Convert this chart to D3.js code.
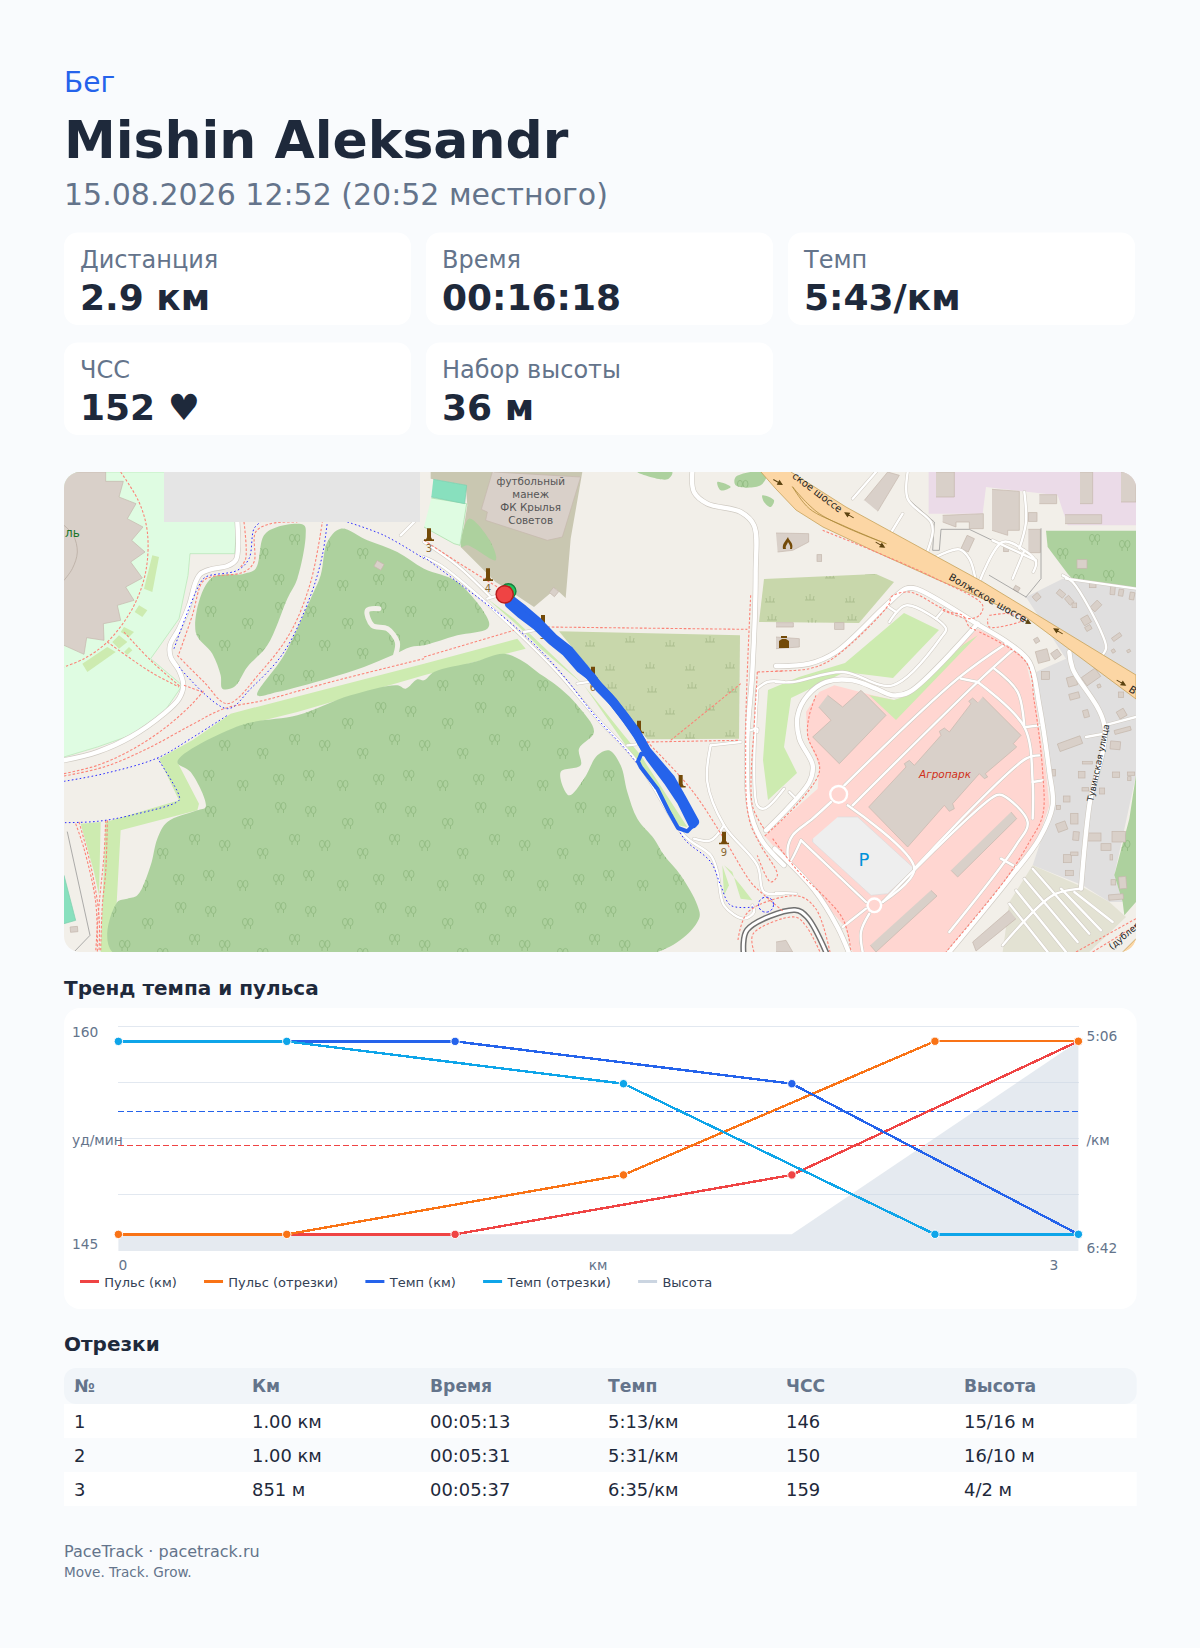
<!DOCTYPE html>
<html lang="ru">
<head>
<meta charset="utf-8">
<title>PaceTrack</title>
<script src="https://cdn.jsdelivr.net/npm/d3@7"></script>
<style>
  html, body { margin: 0; background: #f9fbfd; }
  svg { display: block; font-family: "DejaVu Sans", sans-serif; }
</style>
</head>
<body>
<svg id="root" width="1200" height="1648"></svg>
<script>
// ---- summary ----
const stats = [
  ["Дистанция", "2.9 км"], ["Время", "00:16:18"], ["Темп", "5:43/км"],
  ["ЧСС", "152 ♥"], ["Набор высоты", "36 м"],
];

// ---- chart data (x in km, pulse in bpm, pace in sec/km) ----
const kmX = [0, 1, 2, 2.851];
const segX = [0, 0.5, 1.5, 2.425, 2.851];
const pulseKm = [146, 146, 150, 159];
const pulseSeg = [146, 146, 150, 159, 159];
const paceKm = [313, 313, 331, 395];
const paceSeg = [313, 313, 331, 395, 395];
const elevation = [1, 1, 1, 14];
const avgPulse = 152;
const avgPace = 343;
const legendNames = ["Пульс (км)", "Пульс (отрезки)", "Темп (км)", "Темп (отрезки)", "Высота"];
const legendColors = ["#ef4444", "#f97316", "#2563eb", "#0ea5e9", "#cbd5e1"];

// ---- table ----
const tableHead = ["№", "Км", "Время", "Темп", "ЧСС", "Высота"];
const tableRows = [
  ["1", "1.00 км", "00:05:13", "5:13/км", "146", "15/16 м"],
  ["2", "1.00 км", "00:05:31", "5:31/км", "150", "16/10 м"],
  ["3", "851 м", "00:05:37", "6:35/км", "159", "4/2 м"],
];

// ---- map features. a/b/c are three overlapping strips of the map, coords are at 3x ----
const a = pts => pts.map(([x, y]) => [x / 3, y / 3]);
const b = pts => pts.map(([x, y]) => [360 + x / 3, y / 3]);
const c = pts => pts.map(([x, y]) => [712 + x / 3, y / 3]);

const parkPoly = a([[0,0],[300,0],[520,150],[512,245],[378,245],[372,310],[345,440],[260,560],[355,640],[300,720],[200,790],[100,825],[0,855]]);
const stadium = a([[0,0],[125,0],[125,28],[178,28],[165,75],[216,95],[190,140],[237,165],[203,205],[243,240],[200,270],[235,318],[185,345],[210,385],[160,400],[170,445],[118,455],[120,505],[68,497],[60,547],[0,520]]);
const stadiumArc = a([[0,160],[28,190],[40,240],[25,290],[0,325]]);
const forestMain = [...a([[1080,625],[1060,622],[1025,650],[1000,640],[860,670],[700,730],[530,760],[340,870],[380,900],[425,1005],[400,1015],[310,1050],[280,1100],[260,1180],[220,1270],[190,1280],[160,1290],[145,1440]]),
  ...b([[700,1440],[825,1340],[820,1300],[770,1210],[720,1150],[690,1100],[640,1040],[610,960],[590,880],[555,835],[520,850],[480,920],[435,970],[410,900],[470,880],[465,830],[510,780],[460,700],[410,650],[340,600],[300,570],[240,545],[150,570],[30,600]])];
const forestA = a([[720,160],[640,165],[600,190],[575,290],[540,305],[440,320],[395,480],[445,545],[470,610],[475,650],[510,645],[550,585],[610,520],[670,380],[700,320],[725,190]]);
const forestB = [...a([[790,210],[830,170],[910,205],[1000,240],[1080,290]]), ...b([[100,330],[195,450],[190,470],[100,490],[0,520]]),
  ...a([[1040,525],[985,550],[900,585],[790,620],[640,660],[580,670],[660,550],[740,380],[770,310]])];
const forestPatches = [
  b([[135,140],[200,210],[215,265],[130,220],[112,225]]),
  b([[880,30],[920,45],[890,55]]),
  b([[935,15],[1030,0],[1010,40],[935,40]]),
  b([[1015,70],[1050,85],[1040,105],[1020,90]]),
  b([[640,0],[745,0],[730,22]]),
];
const forestFlat = [
  c([[810,176],[1080,176],[1080,350],[890,322],[875,305],[815,225]]),
  c([[1080,910],[1060,1040],[1015,1210],[1040,1290],[1045,1330],[1080,1290]]),
];
const grassPolys = [
  [...a([[500,725],[1080,575]]), ...b([[280,500],[305,530],[0,610]]), ...a([[700,720],[520,765],[400,830],[340,870],[405,995],[400,1015],[170,1075],[150,1440],[110,1440],[125,1050],[345,985],[285,860],[385,805]])],
  a([[265,250],[285,255],[265,360],[240,350]]),
  a([[225,400],[250,415],[235,435],[212,420]]),
  a([[180,465],[210,480],[195,495],[170,480]]),
  a([[165,490],[190,510],[165,530],[145,510]]),
  a([[130,525],[155,540],[70,600],[55,575]]),
  a([[195,525],[205,535],[190,548],[180,540]]),
  a([[50,1055],[110,1050],[105,1270],[90,1200]]),
  [[840,141],[875,158],[829,206],[781,200],[727,226],[720,275],[733,301],[704,328],[699,288],[704,218],[735,205],[781,191]],
  [[914,163],[832,248],[805,223],[830,228],[845,223],[899,173]],
  b([[190,380],[280,460],[350,530],[480,640],[600,790],[650,850],[790,1065],[760,1060],[640,870],[480,640],[270,440]]),
  b([[900,1180],[950,1240],[985,1285],[950,1280],[925,1200]]),
  b([[895,1180],[915,1240],[900,1270]]),
];
const olivePoly = b([[20,0],[475,0],[440,200],[425,378],[395,350],[330,405],[270,365],[215,330],[110,225],[130,100],[125,40],[20,20]]);
const meadows = [
  b([[405,478],[948,490],[945,800],[670,802]]),
  [[695,150],[700,107],[812,102],[830,110],[795,151]],
];
const retailPoly = c([[605,470],[700,515],[730,545],[750,570],[780,700],[810,900],[820,1000],[790,1090],[700,1220],[530,1440],[230,1440],[207,1364],[46,1184],[-34,1092],[125,950],[130,880],[95,800],[90,720],[130,660],[175,640],[290,670],[355,685],[400,670]]);
const industrialPoly = c([[458,0],[1080,0],[1080,160],[875,160],[845,70],[630,45],[620,125],[458,125]]);
const residentialPoly = c([[750,375],[860,320],[1080,350],[1080,910],[1015,1210],[1040,1290],[1000,1290],[920,1240],[770,1180],[830,1000],[780,600],[870,560]]);
const garagePoly = c([[770,1180],[920,1245],[1000,1290],[1050,1335],[940,1440],[680,1440],[700,1290]]);
const parkingPoly = c([[185,1035],[245,1035],[415,1190],[335,1265],[285,1270],[110,1110],[110,1100]]);
const trunkPoly = [[727,0],[782,35],[919,110],[1072,203],[1072,227],[962,145],[872,107],[812,80],[759,55],[732,38],[712,17],[697,0]];
const trunkCorner = c([[1040,1440],[1080,1400],[1080,1440]]);
const greyRect = [[100,0],[356,0],[356,50],[100,50]];
const pitches = [b([[28,22],[128,40],[122,95],[22,75]]), a([[0,1210],[35,1345],[0,1355]])];
const pitchGreen = b([[22,78],[128,95],[108,220],[90,215],[0,165]]);

const buildings = [
  b([[210,0],[470,15],[415,195],[370,205],[185,145],[190,120],[172,112],[205,0]]),
  c([[620,675],[735,790],[712,815],[722,825],[628,905],[635,915],[625,920],[610,905],[530,995],[535,1010],[520,1018],[505,1000],[395,1125],[278,1005],[390,885],[385,875],[400,865],[415,880],[495,790],[490,778],[505,768],[520,780],[585,695],[578,688],[590,678],[605,692]]),
  c([[155,670],[200,705],[255,655],[330,730],[190,875],[110,795],[165,745],[128,705]]),
  c([[705,1020],[722,1040],[545,1215],[525,1195]]),
  c([[465,1255],[483,1272],[300,1440],[283,1420]]),
  c([[720,1340],[600,1437],[590,1410],[700,1315]]),
  c([[480,0],[535,0],[535,75],[480,75]]),
  c([[912,0],[950,0],[950,95],[912,95]]),
  c([[1035,0],[1080,0],[1080,90],[1035,90]]),
  c([[790,68],[842,68],[842,95],[790,95]]),
  c([[867,128],[977,128],[977,155],[867,155]]),
  c([[648,52],[730,58],[730,175],[695,175],[695,190],[648,175]]),
  c([[500,130],[622,125],[622,170],[580,170],[580,150],[540,150],[540,165],[500,150]]),
  c([[757,172],[793,172],[793,242],[757,242]]),
  c([[265,85],[335,0],[370,10],[305,118]]),
  c([[0,183],[98,185],[98,210],[50,235],[5,240]]),
  c([[0,495],[70,500],[70,525],[0,530]]),
  c([[0,452],[52,452],[52,465],[0,465]]),
  c([[0,1410],[30,1405],[50,1440],[0,1440]]),
];
// cx, cy, w, h, angle at 3x on strip c
const smallBuildings = [
  [782,375,20,18,-40],[855,365,24,16,40],[880,385,16,26,-40],[895,400,14,14,0],[960,402,30,20,-45],[950,340,20,14,0],
  [930,445,24,24,-30],[937,468,18,14,-30],[1010,355,14,26,5],[1035,362,14,20,10],[1068,372,14,22,10],[1022,495,30,12,-35],
  [1012,537,10,10,-30],[1058,537,10,8,-30],[800,552,36,36,-15],[840,547,24,22,-35],[808,610,24,24,0],[888,628,28,28,-15],
  [895,672,30,18,-15],[945,615,50,30,-35],[969,642,10,10,-20],[1035,668,16,16,0],[1037,725,24,24,-30],[930,725,16,22,-15],
  [882,815,72,24,-20],[1040,775,50,12,-15],[1018,820,30,24,5],[934,872,30,8,0],[917,908,20,20,0],[1020,908,22,16,0],
  [833,902,10,20,0],[928,952,20,10,0],[978,957,16,18,0],[872,981,20,18,0],[847,1006,12,12,0],[895,1040,22,32,0],
  [857,1064,30,26,-20],[900,1092,18,26,5],[955,1095,40,24,0],[1028,1094,40,32,0],[990,1125,30,20,0],[1006,1156,8,16,0],
  [874,1160,24,24,0],[880,1203,24,16,0],[1040,1232,22,36,-5],[1012,1231,14,16,0],[1020,1275,44,16,-5],[895,1145,22,10,0],
  [1065,905,22,10,0],[1060,920,10,12,0],[722,350,16,14,30],[575,215,24,44,25],[782,505,14,14,-30],[918,276,30,26,0],
  [690,232,14,14,0],[130,258,14,20,0],[190,462,28,20,0],[-1191,280,24,20,30],[-666,360,20,20,40],[770,135,26,26,0],
  [-2106,1372,22,16,-5],
];

const roadsMajor = [
  a([[0,865],[100,840],[200,795],[300,725],[345,680],[358,640],[345,595],[320,555],[318,520],[345,470],[375,400],[395,330],[410,305],[440,292],[490,282],[515,265],[522,230],[520,150]]),
  b([[805,0],[810,60],[850,95],[950,120],[990,160],[995,300],[985,600],[970,800],[975,1000],[1010,1100],[1080,1180]]),
  c([[0,582],[100,575],[180,540],[330,400],[390,350],[420,350],[610,460],[700,515],[760,570],[790,700],[820,900],[830,1000],[790,1100],[700,1220],[520,1440]]),
  c([[-30,1075],[100,930],[110,880],[70,800],[65,730],[95,670],[150,630],[230,625],[300,650],[350,670],[400,660],[605,455]]),
  c([[-4,1130],[115,1254],[184,1364],[218,1440]]),
  c([[880,540],[890,590],[985,760],[940,1000],[915,1250]]),
];
const roadsMinor = [
  a([[1010,190],[1060,140]]),
  b([[0,255],[50,280],[150,360],[280,480],[400,600],[520,740],[640,870],[780,1090],[860,1150],[880,1200],[900,1300],[960,1340],[990,1320],[985,1300]]),
  b([[0,210],[100,280],[200,375]]),
  b([[190,380],[240,365]]), b([[300,480],[345,472]]), b([[460,635],[505,628]]), b([[610,820],[660,815]]),
  b([[860,820],[950,810]]), b([[860,820],[850,930],[900,1060],[1000,1180],[1020,1260],[1080,1265]]),
  b([[810,1100],[860,1105],[900,1060]]),
  b([[1000,650],[1030,630],[1080,630]]), b([[1000,650],[1000,1000],[1020,1010],[1080,950]]),
  b([[1000,780],[1000,770],[980,775]]),
  c([[0,630],[50,630],[200,600],[350,640],[500,490],[510,470],[390,400],[340,450]]),
  c([[330,400],[360,420]]), c([[480,440],[505,410]]), c([[40,960],[55,975]]),
  c([[205,940],[545,620],[690,515]]),
  c([[230,1000],[605,630],[715,530]]),
  c([[605,630],[745,765],[770,930],[770,1040]]),
  c([[655,590],[725,660],[745,765]]),
  c([[555,620],[605,630]]),
  c([[215,1000],[415,1190],[320,1290]]),
  c([[415,1190],[750,860],[790,850]]),
  c([[750,765],[790,760]]), c([[770,930],[800,925]]),
  c([[320,1290],[660,970],[680,970],[755,1050],[720,1120],[520,1380]]),
  c([[675,1160],[720,1185]]),
  c([[75,1105],[270,1290]]),
  c([[165,990],[110,1040],[50,1090],[35,1130],[40,1170],[75,1105]]),
  c([[270,1310],[200,1365]]), c([[280,1325],[255,1380],[260,1440]]),
  c([[230,80],[300,0]]), c([[395,0],[395,80],[465,150],[470,180],[450,250]]), c([[340,190],[380,125]]),
  c([[470,260],[550,232],[580,260],[600,330]]), c([[610,330],[680,210],[745,235],[780,270],[772,300]]),
  c([[650,205],[780,265]]), c([[745,235],[710,320]]), c([[745,60],[750,150],[730,230]]),
  c([[860,310],[890,330],[980,490],[990,530],[970,560]]),
  c([[985,760],[1080,735]]), c([[930,795],[985,785]]),
  c([[770,1190],[940,1385]]), c([[745,1220],[905,1410]]), c([[720,1255],[870,1440]]), c([[700,1295],[815,1440]]),
  c([[915,1250],[830,1270],[680,1420]]), c([[895,1260],[1010,1350]]), c([[855,1250],[975,1375]]),
  c([[0,1262],[60,1265]]), c([[870,320],[1080,350]]),
];
const grayLines = [
  a([[10,1080],[78,1390],[30,1440]]),
  c([[395,80],[475,150],[470,235],[490,235],[495,172],[580,172],[680,220]]),
  c([[640,310],[750,375]]), c([[795,170],[795,320],[750,375]]),
];
const railLine = [[679.5,480],[683,458],[731,438],[743,445],[762,480]];
const redPaths = [
  a([[170,0],[225,90],[250,180],[245,300],[205,410],[130,510],[60,560],[0,585]]),
  a([[180,480],[260,565],[350,645]]),
  a([[130,510],[260,600],[345,645]]),
  a([[0,905],[100,880],[200,835],[300,770],[380,700],[420,655]]),
  a([[0,912],[120,885],[250,830],[380,760],[480,710],[600,685],[800,630],[1080,560]]),
  a([[340,550],[420,630],[490,695],[590,600],[680,480],[740,330],[775,150]]),
  a([[345,545],[385,430],[415,330],[440,315],[540,300],[570,270],[575,180],[620,155],[700,150]]),
  a([[540,150],[545,260],[530,285]]),
  a([[360,640],[415,660]]),
  a([[35,1055],[60,1130],[95,1290],[100,1440]]),
  a([[125,1045],[120,1150],[105,1300],[95,1440]]),
  a([[45,1050],[80,1180],[105,1330],[105,1440]]),
  a([[130,1045],[125,1200],[115,1300],[110,1440]]),
  b([[0,205],[100,270],[220,345]]),
  b([[0,555],[270,475]]),
  b([[370,465],[970,472]]),
  b([[670,810],[945,805]]),
  b([[740,805],[950,635]]),
  b([[650,790],[800,950],[900,1100],[980,1230],[1010,1260],[1080,1320]]),
  b([[980,370],[965,800],[975,1040],[1010,1120],[1060,1210],[1040,1230],[1000,1150]]),
  b([[1000,600],[990,770]]), b([[990,780],[985,1000],[1020,1070]]),
  b([[1000,600],[1080,597]]),
  c([[0,597],[100,590],[170,560],[340,395],[345,375],[400,360],[490,405],[520,420],[560,430],[580,465],[600,475]]),
  c([[140,175],[300,240],[480,320],[620,400],[610,430],[580,440],[500,415]]),
  c([[640,430],[700,425],[750,440],[640,465],[635,440]]),
  c([[610,480],[750,570],[775,690],[800,900],[800,1030],[760,1110],[690,1220],[510,1440]]),
  c([[-34,1092],[130,900],[95,790],[100,730],[120,670]]),
  c([[-10,1100],[60,1190],[200,1340],[225,1440]]),
  [[674,468],[684,440],[734,424],[752,437],[766,480]],
  [[690,480],[689,462],[731,445],[742,454],[756,480]],
  c([[900,1440],[1080,1340]]),
  c([[950,1440],[1080,1360]]),
];
const bluePaths = [
  a([[330,530],[405,340],[425,315],[520,295],[555,260],[570,170],[590,150]]),
  a([[345,585],[490,710],[560,650],[660,540],[740,370],[775,250],[790,150]]),
  a([[0,928],[120,905],[280,858],[380,800],[490,730]]),
  a([[280,858],[345,970],[345,985],[200,1030],[100,1048],[0,1052]]),
  a([[850,150],[960,190],[1080,260]]),
  b([[0,255],[100,330],[280,470],[400,590],[520,740],[620,850],[740,1020],[780,1100],[860,1170],[890,1240],[920,1300],[990,1305]]),
];
const blueCircle = b([[1026,1298]])[0];
const monuments = b([[15,205],[192,325],[357,465],[507,620],[645,782],[770,945],[900,1115]]);
const monumentNames = ["3", "4", "5", "6", "7", "8", "9"];
const arrowSpots = c([[220,130],[312,218],[750,447],[847,478],[1035,632],[5,30]]);
const arrowAngles = [210, 30, 30, 210, 30, 30];

// the recorded route: two passes along the strip, then the thin return loop
const routeOut = b([[264,386],[298,412],[342,450],[390,500],[436,536],[478,586],[514,632],[556,676],[596,726],[634,776],[668,836],[740,920],[776,984],[812,1050]]);
const routeBack = b([[806,1056],[772,988],[732,928],[678,856],[642,792],[606,740],[568,690],[528,650],[502,614],[470,590],[426,540],[384,506],[338,462],[290,426],[256,396]]);
const routeLoop = b([[812,1055],[790,1078],[762,1068],[735,1020],[700,950],[650,885],[642,868],[652,845],[672,850]]);
const startPoint = b([[253,358]])[0];
const finishPoint = b([[242,367]])[0];

// ---- draw ----
const svg = d3.select("#root");
const ink = "#1e293b", muted = "#64748b";

function label(sel, x, y, txt, size, color, weight) {
  return sel.append("text").attr("x", x).attr("y", y).attr("font-size", size)
    .attr("fill", color).attr("font-weight", weight || 400).text(txt);
}

// header
label(svg, 64, 92, "Бег", 28, "#2563eb");
label(svg, 64, 158, "Mishin Aleksandr", 52, ink, 700);
label(svg, 64, 205, "15.08.2026 12:52 (20:52 местного)", 30, muted);

// stat cards
const cardLeft = [64, 426, 788];
stats.forEach(([name, value], i) => {
  const col = i % 3, row = Math.floor(i / 3);
  const top = 232.5 + row * 110;
  svg.append("rect").attr("x", cardLeft[col]).attr("y", top).attr("width", 347).attr("height", 92.5)
    .attr("rx", 14).attr("fill", "#fff");
  label(svg, cardLeft[col] + 16, top + 35.2, name, 24, muted);
  label(svg, cardLeft[col] + 16, top + 77.5, value, 36, ink, 700);
});

// map
const mapX = d3.scaleLinear().domain([0, 1072]).range([64, 1136]);
const mapY = d3.scaleLinear().domain([0, 480]).range([472, 952]);
const poly = d3.line().x(d => mapX(d[0])).y(d => mapY(d[1]));
const smoothClosed = d3.line().x(d => mapX(d[0])).y(d => mapY(d[1])).curve(d3.curveCatmullRomClosed.alpha(0.5));
const smooth = d3.line().x(d => mapX(d[0])).y(d => mapY(d[1])).curve(d3.curveCatmullRom.alpha(0.5));

const defs = svg.append("defs");
defs.append("clipPath").attr("id", "mapClip").append("rect")
  .attr("x", 64).attr("y", 472).attr("width", 1072).attr("height", 480).attr("rx", 16);

// tree and tuft patterns for wooded land and meadow
const treeSpots = [[8,10],[45,22],[78,6],[22,44],[60,52],[92,38],[6,74],[40,84],[76,78]];
const treePat = defs.append("pattern").attr("id", "trees").attr("patternUnits", "userSpaceOnUse")
  .attr("width", 100).attr("height", 100);
treeSpots.forEach(([x, y]) => {
  [0, 5.5].forEach(dx => {
    const g = treePat.append("g").attr("transform", `translate(${x + dx},${y})`)
      .attr("fill", "none").attr("stroke", "#8eb87d").attr("stroke-width", 0.8);
    g.append("ellipse").attr("cx", 0).attr("cy", 0).attr("rx", 2.5).attr("ry", 3.6);
    g.append("line").attr("x1", 0).attr("x2", 0).attr("y1", 3.6).attr("y2", 7);
  });
});
const tuftPat = defs.append("pattern").attr("id", "tufts").attr("patternUnits", "userSpaceOnUse")
  .attr("width", 80).attr("height", 68);
[[12,12],[52,8],[30,34],[70,30],[10,56],[50,58]].forEach(([x, y]) => {
  tuftPat.append("path").attr("d", `M${x-5},${y}h10M${x},${y}v-6M${x-3},${y}l-1,-4M${x+3},${y}l1,-4`)
    .attr("stroke", "#a9bc8c").attr("stroke-width", 0.9).attr("fill", "none");
});

const map = svg.append("g").attr("clip-path", "url(#mapClip)");
map.append("rect").attr("x", 64).attr("y", 472).attr("width", 1072).attr("height", 480).attr("fill", "#f2efe9");

function fillPolys(list, gen, color, stroke) {
  map.selectAll(null).data(list).enter().append("path").attr("d", gen)
    .attr("fill", color).attr("stroke", stroke || "none").attr("stroke-width", 0.7);
}
function strokeLines(list, gen, color, width, dash) {
  map.selectAll(null).data(list).enter().append("path").attr("d", gen).attr("fill", "none")
    .attr("stroke", color).attr("stroke-width", width).attr("stroke-dasharray", dash || null)
    .attr("stroke-linecap", dash ? "butt" : "round").attr("stroke-linejoin", "round");
}

fillPolys([olivePoly], poly, "#c9c7b1");
fillPolys([parkPoly], poly, "#dffce2", "#b4e6b4");
fillPolys([pitchGreen], poly, "#dffce2", "#a5dda5");
fillPolys(pitches, poly, "#88e0be", "#7ccfae");
fillPolys([industrialPoly], poly, "#ebdbe8");
fillPolys([residentialPoly], poly, "#e0dfdf");
fillPolys([garagePoly], poly, "#e3e2d3");
fillPolys([retailPoly], poly, "#ffd6d1");
fillPolys(grassPolys, poly, "#cdebb0");
fillPolys(meadows, poly, "#c8d7ab");
fillPolys(meadows, poly, "url(#tufts)");
const woods = [forestMain, forestA, forestB, ...forestPatches];
fillPolys(woods, smoothClosed, "#add19e");
fillPolys(woods, smoothClosed, "url(#trees)");
fillPolys(forestFlat, poly, "#add19e");
fillPolys(forestFlat, poly, "url(#trees)");
// little clearing track inside the wood
strokeLines([a([[945,410],[910,415],[925,460],[970,470],[1000,510],[995,548]])], smooth, "#f2efe9", 5);
fillPolys([parkingPoly], poly, "#eeeeee", "#dddddd");
fillPolys([stadium], poly, "#d9d0c9", "#c5b8ad");
strokeLines([stadiumArc], smooth, "#b9aca2", 0.8);
fillPolys(buildings, poly, "#d9d0c9", "#c5b8ad");
map.selectAll(null).data(smallBuildings).enter().append("rect")
  .attr("x", d => -d[2] / 6).attr("y", d => -d[3] / 6).attr("width", d => d[2] / 3).attr("height", d => d[3] / 3)
  .attr("transform", d => `translate(${mapX(712 + d[0] / 3)},${mapY(d[1] / 3)}) rotate(${d[4]})`)
  .attr("fill", "#d9d0c9").attr("stroke", "#c5b8ad").attr("stroke-width", 0.7);

// roads
strokeLines(grayLines, poly, "#8d8d8d", 0.7);
strokeLines(roadsMinor, smooth, "#cfcac2", 3.4);
strokeLines(roadsMajor, smooth, "#cfcac2", 5.6);
strokeLines(roadsMinor, smooth, "#ffffff", 2.4);
strokeLines(roadsMajor, smooth, "#ffffff", 4.4);
strokeLines([railLine], smooth, "#707070", 6);
strokeLines([railLine], smooth, "#ffffff", 3);
fillPolys([trunkPoly, trunkCorner], poly, "#fcd6a4", "#c09a4a");
strokeLines([c([[50,45],[100,110],[200,160],[330,215]]), c([[50,45],[130,125],[330,215]])], smooth, "#a5822f", 0.7);
[[188, 967, 8.4], [295, 1300, 6.8]].forEach(([x, y, r]) => {
  map.append("circle").attr("cx", mapX(712 + x / 3)).attr("cy", mapY(y / 3)).attr("r", r)
    .attr("fill", "#ffd6d1").attr("stroke", "#ffffff").attr("stroke-width", 2.4);
});
strokeLines(redPaths, smooth, "#fb8478", 1.1, "2.6 1.8");
strokeLines(bluePaths, smooth, "#2a2aff", 1, "1.6 2.4");
map.append("circle").attr("cx", mapX(blueCircle[0])).attr("cy", mapY(blueCircle[1])).attr("r", 7.5)
  .attr("fill", "none").attr("stroke", "#2a2aff").attr("stroke-width", 1).attr("stroke-dasharray", "2.4 2");
fillPolys([greyRect], poly, "#e5e5e5");

// road arrows
map.selectAll(null).data(arrowSpots).enter().append("path")
  .attr("d", "M-5,0H3M1,-2L5,0L1,2Z").attr("stroke", "#5c4310").attr("stroke-width", 1).attr("fill", "#5c4310")
  .attr("transform", (d, i) => `translate(${mapX(d[0])},${mapY(d[1])}) rotate(${arrowAngles[i]})`);

// map monuments
const brown = "#734a08";
const mon = map.selectAll(null).data(monuments).enter().append("g")
  .attr("transform", d => `translate(${mapX(d[0])},${mapY(d[1])})`);
mon.append("path").attr("d", "M-2,-12H2V-3L3,-1H5V0.6H-5V-1H-3L-2,-3Z").attr("fill", brown);
mon.append("text").attr("y", 12).attr("text-anchor", "middle").attr("font-size", 10)
  .attr("fill", "#8a6a34").text((d, i) => monumentNames[i]);

// map labels
function mapText(txt, x, y, size, color, angle, opts) {
  const t = map.append("text").attr("font-size", size).attr("fill", color).text(txt)
    .attr("transform", `translate(${mapX(x)},${mapY(y)}) rotate(${angle || 0})`);
  Object.entries(opts || {}).forEach(([k, v]) => t.attr(k, v));
  return t;
}
["футбольный", "манеж", "ФК Крылья", "Советов"].forEach((s, i) =>
  mapText(s, 466.7, 13 + i * 13.1, 10.4, "#555", 0, { "text-anchor": "middle" }));
mapText("ль", 1, 65, 12, "#18752a", 0);
mapText("Волжское шоссе", 884, 107, 10, "#222", 30);
mapText("ское шоссе", 775, 41, 10, "#222", 37, { "text-anchor": "end" });
mapText("В", 1064, 219, 10, "#222", 33);
mapText("Тувинская улица", 1029, 330, 8.8, "#222", -78);
mapText("(дублер)", 1048, 478, 9, "#222", -40);
mapText("Агропарк", 881, 306, 10.5, "#d0301a", 0, { "text-anchor": "middle", "font-style": "italic" });
mapText("P", 800, 394, 18, "#0092da", 0, { "text-anchor": "middle" });

// fire and police glyph stand-ins on the buildings
map.append("path").attr("transform", `translate(${mapX(724)},${mapY(72)})`)
  .attr("d", "M-5,5C-6,0 -3,-2 0,-7C1,-3 6,-1 4,5L2,5C3,2 1,0 0,-2C-1,1 -3,2 -2,5Z").attr("fill", brown);
map.append("path").attr("transform", `translate(${mapX(720)},${mapY(170)})`)
  .attr("d", "M-3,-6H3V-4H-3ZM-5,6V-1L-2,-3H2L5,-1V6Z").attr("fill", brown);

// route
strokeLines([routeOut, routeBack], poly, "#2563eb", 9);
strokeLines([routeLoop], poly, "#2563eb", 4);
map.append("circle").attr("cx", mapX(startPoint[0])).attr("cy", mapY(startPoint[1])).attr("r", 7.6)
  .attr("fill", "#22c55e").attr("stroke", "#15803d").attr("stroke-width", 1.4);
map.append("circle").attr("cx", mapX(finishPoint[0])).attr("cy", mapY(finishPoint[1])).attr("r", 8.6)
  .attr("fill", "#ef4444").attr("stroke", "#b91c1c").attr("stroke-width", 1.4);

// trend chart
label(svg, 64, 995, "Тренд темпа и пульса", 20, ink, 700);
svg.append("rect").attr("x", 64).attr("y", 1008).attr("width", 1072.7).attr("height", 301).attr("rx", 16).attr("fill", "#fff");

const x = d3.scaleLinear().domain([0, 2.851]).range([118.4, 1078.4]);
const yPulse = d3.scaleLinear().domain([145, 160]).range([1249.2, 1026.4]);
const yPace = d3.scaleLinear().domain([306.6, 401.8]).range([1026.3, 1250.3]);
const yElev = yPulse.copy().domain([0, 15]);
const yGrid = d3.scaleLinear().domain([0, 4]).range([1026.3, 1250.3]);

svg.append("g").selectAll("line").data([0, 1, 2, 3])
  .enter().append("line")
  .attr("x1", 118.4).attr("x2", 1079.4).attr("y1", d => yGrid(d)).attr("y2", d => yGrid(d))
  .attr("stroke", "#e2e8f0").attr("stroke-width", 1).attr("shape-rendering", "crispEdges");

const elevPts = kmX.map((d, i) => [d, elevation[i]]);
svg.append("path").datum(elevPts)
  .attr("d", d3.area().x(d => x(d[0])).y0(1251).y1(d => yElev(d[1])))
  .attr("fill", "#cbd5e1").attr("opacity", 0.5);

svg.append("line").attr("x1", x.range()[0]).attr("x2", x.range()[1]).attr("y1", yPace(avgPace)).attr("y2", yPace(avgPace))
  .attr("stroke", "#2563eb").attr("stroke-width", 1).attr("stroke-dasharray", "6 3").attr("shape-rendering", "crispEdges");
svg.append("line").attr("x1", x.range()[0]).attr("x2", x.range()[1]).attr("y1", yPulse(avgPulse)).attr("y2", yPulse(avgPulse))
  .attr("stroke", "#ef4444").attr("stroke-width", 1).attr("stroke-dasharray", "6 3").attr("shape-rendering", "crispEdges");

const trendSeries = [
  { xs: kmX, ys: pulseKm, y: yPulse, color: legendColors[0] },
  { xs: segX, ys: pulseSeg, y: yPulse, color: legendColors[1] },
  { xs: kmX, ys: paceKm, y: yPace, color: legendColors[2] },
  { xs: segX, ys: paceSeg, y: yPace, color: legendColors[3] },
];
trendSeries.forEach(s => {
  const pts = s.xs.map((d, i) => [x(d), s.y(s.ys[i])]);
  const g = svg.append("g");
  g.append("path").attr("d", d3.line()(pts)).attr("fill", "none").attr("stroke", s.color)
    .attr("stroke-width", 2.4).attr("shape-rendering", "crispEdges");
  g.selectAll("circle").data(pts).enter().append("circle")
    .attr("cx", d => d[0]).attr("cy", d => d[1]).attr("r", 4.2)
    .attr("fill", s.color).attr("stroke", "#fff").attr("stroke-width", 1);
});

// axis captions
const axisSize = 13.8;
label(svg, 72, yPulse(160) + 11, "160", axisSize, muted);
label(svg, 72, 1145, "уд/мин", axisSize, muted);
label(svg, 72, yPulse(145), "145", axisSize, muted);
label(svg, 1086.4, yPace(306.6) + 15, "5:06", axisSize, muted);
label(svg, 1086.4, 1145, "/км", axisSize, muted);
label(svg, 1086.4, yPace(401.8) + 2.4, "6:42", axisSize, muted);
label(svg, x(0), 1270, "0", axisSize, muted);
label(svg, 598, 1270, "км", axisSize, muted).attr("text-anchor", "middle");
label(svg, x.range()[1] - 20, 1270, "3", axisSize, muted).attr("text-anchor", "end");

// legend
let legendCursor = 80;
legendNames.forEach((name, i) => {
  svg.append("rect").attr("x", legendCursor).attr("y", 1280).attr("width", 19).attr("height", 3).attr("fill", legendColors[i]);
  const t = label(svg, legendCursor + 24.3, 1287, name, 13, "#334155");
  legendCursor += 24.3 + t.node().getComputedTextLength() + 27.2;
});

// table
label(svg, 64, 1351, "Отрезки", 20, ink, 700);
const col = d3.scaleLinear().domain([0, 1]).range([74, 252]);
svg.append("rect").attr("x", 64).attr("y", 1368).attr("width", 1072.7).attr("height", 36).attr("rx", 12).attr("fill", "#f1f5f9");
tableHead.forEach((h, i) => label(svg, col(i), 1392, h, 17.2, muted, 700));
const rowTop = d3.scaleLinear().domain([0, 1]).range([1404, 1438]);
tableRows.forEach((row, r) => {
  if (r % 2 === 0) {
    svg.append("rect").attr("x", 64).attr("y", rowTop(r)).attr("width", 1072.7).attr("height", rowTop(1) - rowTop(0))
      .attr("fill", "#fff");
  }
  row.forEach((cell, i) => label(svg, col(i), rowTop(r) + 23.8, cell, 17.9, ink));
});

// footer
label(svg, 64, 1557, "PaceTrack · pacetrack.ru", 16, muted);
label(svg, 64, 1577, "Move. Track. Grow.", 13.6, muted);
</script>
</body>
</html>
